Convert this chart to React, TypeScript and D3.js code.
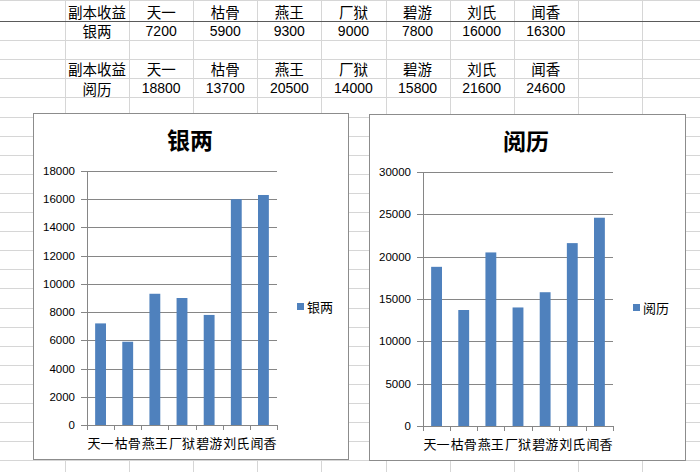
import React from 'react';
import * as d3 from 'd3';

// sheet data
const headerLabel = '副本收益';
const categories = ['天一', '枯骨', '燕王', '厂狱', '碧游', '刘氏', '闻香'];
const silverName = '银两';
const silverValues = [7200, 5900, 9300, 9000, 7800, 16000, 16300];
const expName = '阅历';
const expValues = [18800, 13700, 20500, 14000, 15800, 21600, 24600];
const silverTicks = [0, 2000, 4000, 6000, 8000, 10000, 12000, 14000, 16000, 18000];
const expTicks = [0, 5000, 10000, 15000, 20000, 25000, 30000];

const W = 700;
const H = 472;
const CJK = '"Noto Sans CJK SC", sans-serif';
const NUM = '"Liberation Sans", Arial, sans-serif';
const BAR = '#4f81bd';
const GRID = '#868686';

// spreadsheet grid
const colLines = d3.range(10).map(i => 65 + i * 64.1);
const rowLines = d3.range(24).map(i => 21 + i * 19.1);

interface ChartProps {
  x: number;
  y: number;
  w: number;
  h: number;
  title: string;
  values: number[];
  ticks: number[];
}

const BarChart: React.FC<ChartProps> = ({ x, y, w, h, title, values, ticks }) => {
  const plot = { left: 54, top: 58, right: 244, bottom: 312 };
  const xScale = d3.scaleBand<string>()
    .domain(categories)
    .range([plot.left, plot.right])
    .paddingInner(0.6)
    .paddingOuter(0.3);
  const band = d3.scaleBand<string>().domain(categories).range([plot.left, plot.right]);
  const yScale = d3.scaleLinear()
    .domain([0, d3.max(ticks) as number])
    .range([plot.bottom, plot.top]);

  return (
    <g transform={`translate(${x},${y})`}>
      <rect x={0.5} y={0.5} width={w} height={h} fill="#fff" stroke="#8c8c8c" />
      <text x={157} y={26} textAnchor="middle" dominantBaseline="central"
        fontFamily={CJK} fontWeight="bold" fontSize={23} fill="#000">{title}</text>

      {ticks.map(t => (
        <g key={t}>
          <line x1={plot.left - 6} x2={plot.right} y1={Math.round(yScale(t)) + 0.5} y2={Math.round(yScale(t)) + 0.5}
            stroke={GRID} />
          <text x={plot.left - 12} y={yScale(t)} textAnchor="end" dominantBaseline="central"
            fontFamily={NUM} fontSize={11.5} fill="#000">{t}</text>
        </g>
      ))}

      {categories.map((c, i) => (
        <rect key={c} x={xScale(c)} y={yScale(values[i])} width={xScale.bandwidth()}
          height={yScale(0) - yScale(values[i])} fill={BAR} />
      ))}

      <line x1={plot.left + 0.5} x2={plot.left + 0.5} y1={plot.top} y2={plot.bottom} stroke={GRID} />
      <line x1={plot.left} x2={plot.right} y1={plot.bottom + 0.5} y2={plot.bottom + 0.5} stroke={GRID} />
      {categories.concat(['']).map((c, i) => {
        const bx = plot.left + i * band.bandwidth();
        return <line key={i} x1={Math.round(bx) + 0.5} x2={Math.round(bx) + 0.5}
          y1={plot.bottom} y2={plot.bottom + 5} stroke={GRID} />;
      })}
      {categories.map(c => (
        <text key={c} x={(band(c) as number) + band.bandwidth() / 2} y={plot.bottom + 17}
          textAnchor="middle" dominantBaseline="central" fontFamily={CJK} fontSize={13} fill="#000">{c}</text>
      ))}

      <rect x={264} y={190} width={7} height={7} fill={BAR} />
      <text x={274} y={193.5} dominantBaseline="central" fontFamily={CJK} fontSize={13} fill="#000">{title}</text>
    </g>
  );
};

const App: React.FC = () => {
  const colCenters = d3.range(8).map(i => (colLines[i] + colLines[i + 1]) / 2);
  const rows = [
    { y: 11, cells: [headerLabel, ...categories] },
    { y: 30.5, cells: [silverName, ...silverValues.map(String)] },
    { y: 68.5, cells: [headerLabel, ...categories] },
    { y: 88, cells: [expName, ...expValues.map(String)] },
  ];

  return (
    <svg width={W} height={H} style={{ position: 'absolute', left: 0, top: 0, background: '#fff' }}>
      {colLines.map((cx, i) => (
        <line key={'c' + i} x1={Math.round(cx) + 0.5} x2={Math.round(cx) + 0.5} y1={0} y2={H} stroke="#d6d6d6" />
      ))}
      {rowLines.map((ry, i) => (
        <line key={'r' + i} x1={0} x2={W} y1={Math.round(ry) + 0.5} y2={Math.round(ry) + 0.5}
          stroke={i === 0 ? '#5a5a5a' : '#d6d6d6'} />
      ))}
      <line x1={0} x2={W} y1={0.5} y2={0.5} stroke="#d6d6d6" />

      {rows.map((r, ri) => r.cells.map((txt, ci) => (
        <text key={ri + '-' + ci} x={colCenters[ci]} y={r.y} textAnchor="middle" dominantBaseline="central"
          fontFamily={/^\d+$/.test(txt) ? NUM : CJK} fontSize={/^\d+$/.test(txt) ? 14 : 14.5} fill="#000">{txt}</text>
      )))}

      <BarChart x={33} y={113} w={315} h={346} title={silverName} values={silverValues} ticks={silverTicks} />
      <BarChart x={369} y={114} w={316} h={346} title={expName} values={expValues} ticks={expTicks} />
    </svg>
  );
};

export default App;
